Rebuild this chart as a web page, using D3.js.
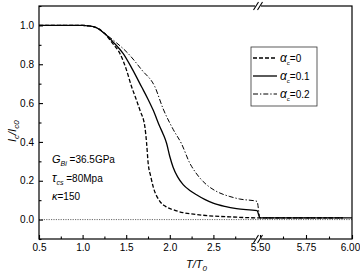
<!DOCTYPE html>
<html lang="en">
  <head>
    <meta charset="utf-8">
    <title>Ic/Ic0 vs T/T0</title>
    <script type="text/javascript" src="https://cdn.jsdelivr.net/npm/d3@7/dist/d3.min.js"></script>
    <style>
      body { margin: 0; background: white; }
      text {
        font-family: "Liberation Sans", Arial, Helvetica, sans-serif;
        font-size: 10px;
        fill: black;
      }
    </style>
  </head>
  <body>
    <script>

        var w = 360;
        var h = 278;

        // data
        var seriesNames = ["0", "0.1", "0.2"];

        var tDashed = [0.5, 1.0, 1.06, 1.15, 1.256, 1.34, 1.428, 1.5, 1.562, 1.61, 1.657, 1.714, 1.734, 1.752, 1.78, 1.809, 1.886, 1.95, 2.038, 2.15, 2.306, 2.5, 2.688, 3.0, 5.5, 5.95];
        var vDashed = [1.0, 1.0, 0.998, 0.99, 0.957, 0.91, 0.855, 0.775, 0.684, 0.625, 0.564, 0.478, 0.393, 0.29, 0.225, 0.17, 0.094, 0.068, 0.051, 0.036, 0.026, 0.018, 0.014, 0.009, 0.009, 0.009];

        var tSolid = [0.5, 1.0, 1.06, 1.15, 1.256, 1.36, 1.466, 1.57, 1.676, 1.75, 1.809, 1.886, 1.924, 1.963, 2.0, 2.038, 2.09, 2.153, 2.23, 2.306, 2.4, 2.497, 2.63, 2.765, 3.0, 5.5, 6.0];
        var vSolid = [1.0, 1.0, 0.998, 0.99, 0.957, 0.91, 0.855, 0.775, 0.684, 0.62, 0.564, 0.478, 0.44, 0.393, 0.325, 0.27, 0.22, 0.18, 0.15, 0.128, 0.104, 0.085, 0.068, 0.056, 0.046, 0.009, 0.009];

        var tDashDot = [0.5, 1.0, 1.06, 1.15, 1.256, 1.39, 1.523, 1.68, 1.829, 1.924, 2.038, 2.135, 2.23, 2.3, 2.382, 2.47, 2.573, 2.68, 2.8, 3.0, 5.5, 5.95];
        var vDashDot = [1.0, 1.0, 0.998, 0.99, 0.957, 0.91, 0.855, 0.77, 0.684, 0.57, 0.465, 0.39, 0.29, 0.24, 0.196, 0.163, 0.137, 0.12, 0.106, 0.094, 0.009, 0.009];

        var xMajor = [0.5, 1.0, 1.5, 2.0, 2.5, 5.5, 5.75, 6.0];
        var xMajorLabels = ["0.5", "1.0", "1.5", "2.0", "2.5", "5.50", "5.75", "6.00"];
        var xMinor = [0.75, 1.25, 1.75, 2.25, 2.75, 5.625, 5.875];
        var yMajor = [0.0, 0.2, 0.4, 0.6, 0.8, 1.0];
        var yMinor = [-0.1, 0.1, 0.3, 0.5, 0.7, 0.9, 1.1];

        var pLeft = 39, pRight = 352, pTop = 6, pBottom = 239;

        // broken x axis: 0.5-3.0, then 5.5-6.0
        var xScale = d3.scaleLinear()
                       .domain([0.5, 3.0, 5.5, 6.0])
                       .range([pLeft, 257, 260, pRight]);

        var yScale = d3.scaleLinear()
                       .domain([-0.1, 1.1])
                       .range([pBottom, pTop]);

        var mySvg = d3.select("body")
                      .append("svg")
                      .attr("width", w)
                      .attr("height", h);

        // zero line
        mySvg.append("line")
             .attr("x1", pLeft).attr("x2", pRight)
             .attr("y1", yScale(0)).attr("y2", yScale(0))
             .attr("stroke", "#444")
             .attr("stroke-width", 0.8)
             .attr("stroke-dasharray", "1.2,1.2");

        var series = [
          { t: tDashed, v: vDashed, dash: "4,2", width: 1.3 },
          { t: tSolid, v: vSolid, dash: null, width: 1.3 },
          { t: tDashDot, v: vDashDot, dash: "5,2,1.3,2", width: 1.0 }
        ];

        var line = d3.line()
                     .x(function(d) { return xScale(d[0]); })
                     .y(function(d) { return yScale(d[1]); })
                     .curve(d3.curveMonotoneX);

        mySvg.selectAll("path.curve")
             .data(series)
             .enter()
             .append("path")
             .attr("class", "curve")
             .attr("d", function(s) {
               return line(s.t.map(function(t, i) { return [t, s.v[i]]; }));
             })
             .attr("fill", "none")
             .attr("stroke", "black")
             .attr("stroke-width", function(s) { return s.width; })
             .attr("stroke-dasharray", function(s) { return s.dash; });

        // frame
        mySvg.append("rect")
             .attr("x", pLeft).attr("y", pTop)
             .attr("width", pRight - pLeft).attr("height", pBottom - pTop)
             .attr("fill", "none")
             .attr("stroke", "black")
             .attr("stroke-width", 1.2);

        // axes
        var xAxis = d3.axisBottom(xScale)
                      .tickValues(xMajor)
                      .tickFormat(function(d, i) { return xMajorLabels[i]; })
                      .tickSize(-4)
                      .tickPadding(5);
        var gx = mySvg.append("g")
                      .attr("transform", "translate(0," + pBottom + ")")
                      .call(xAxis);
        gx.select(".domain").remove();
        // keep the last label inside the window
        gx.selectAll(".tick text").filter(function(d) { return d === 6.0; }).attr("dx", -2);

        var gxm = mySvg.append("g")
                       .attr("transform", "translate(0," + pBottom + ")")
                       .call(d3.axisBottom(xScale).tickValues(xMinor).tickFormat("").tickSize(-2.5));
        gxm.select(".domain").remove();

        var yAxis = d3.axisLeft(yScale)
                      .tickValues(yMajor)
                      .tickFormat(d3.format(".1f"))
                      .tickSize(-4)
                      .tickPadding(5);
        var gy = mySvg.append("g")
                      .attr("transform", "translate(" + pLeft + ",0)")
                      .call(yAxis);
        gy.select(".domain").remove();

        var gym = mySvg.append("g")
                       .attr("transform", "translate(" + pLeft + ",0)")
                       .call(d3.axisLeft(yScale).tickValues(yMinor).tickFormat("").tickSize(-2.5));
        gym.select(".domain").remove();

        mySvg.selectAll(".tick line").attr("stroke-width", 1.1);
        mySvg.selectAll(".tick text")
             .style("font-size", "10px")
             .attr("font-family", null)
             .attr("font-size", null);

        // break marks
        var bx = 258;
        [pTop, pBottom].forEach(function(yy) {
          mySvg.append("rect")
               .attr("x", bx - 3).attr("y", yy - 1.5)
               .attr("width", 6).attr("height", 3)
               .attr("fill", "white");
          [-2, 2].forEach(function(off) {
            mySvg.append("line")
                 .attr("x1", bx + off - 2.5).attr("y1", yy + 4)
                 .attr("x2", bx + off + 2.5).attr("y2", yy - 4)
                 .attr("stroke", "black")
                 .attr("stroke-width", 1.1);
          });
        });

        // axis titles
        var xt = mySvg.append("text")
                      .attr("x", 186).attr("y", 268)
                      .style("font-size", "11px")
                      .style("font-style", "italic");
        xt.append("tspan").text("T/T");
        xt.append("tspan").attr("dy", 3).style("font-size", "8px").text("0");

        var yt = mySvg.append("text")
                      .attr("transform", "translate(16,142) rotate(-90)")
                      .style("font-size", "11px")
                      .style("font-style", "italic");
        yt.append("tspan").text("I");
        yt.append("tspan").attr("dy", 3).style("font-size", "8px").text("c");
        yt.append("tspan").attr("dy", -3).text("/I");
        yt.append("tspan").attr("dy", 3).style("font-size", "8px").text("c0");

        // legend
        var legend = mySvg.append("g");
        legend.append("rect")
              .attr("x", 251).attr("y", 47)
              .attr("width", 66).attr("height", 59)
              .attr("fill", "white")
              .attr("stroke", "#333")
              .attr("stroke-width", 0.8);

        series.forEach(function(s, i) {
          var ly = 58 + i * 18;
          legend.append("line")
                .attr("x1", 253).attr("x2", 277)
                .attr("y1", ly).attr("y2", ly)
                .attr("stroke", "black")
                .attr("stroke-width", s.width)
                .attr("stroke-dasharray", s.dash);
          var lt = legend.append("text")
                         .attr("x", 280).attr("y", ly + 3.5);
          lt.append("tspan").style("font-style", "italic").style("font-size", "12px").text("α");
          lt.append("tspan").attr("dy", 3).style("font-size", "6px").text("c");
          lt.append("tspan").attr("dy", -3).text("=" + seriesNames[i]);
        });

        // parameter notes
        var n1 = mySvg.append("text").attr("x", 52).attr("y", 163);
        n1.append("tspan").style("font-style", "italic").style("font-size", "11px").text("G");
        n1.append("tspan").attr("dy", 3).style("font-style", "italic").style("font-size", "7px").text("Bi");
        n1.append("tspan").attr("dy", -3).text(" =36.5GPa");

        var n2 = mySvg.append("text").attr("x", 52).attr("y", 182);
        n2.append("tspan").style("font-style", "italic").style("font-size", "12px").text("τ");
        n2.append("tspan").attr("dy", 3).style("font-style", "italic").style("font-size", "7px").text("cs");
        n2.append("tspan").attr("dy", -3).text(" =80Mpa");

        var n3 = mySvg.append("text").attr("x", 52).attr("y", 200);
        n3.append("tspan").style("font-style", "italic").style("font-size", "11px").text("κ");
        n3.append("tspan").text("=150");

    </script>
  </body>
</html>
